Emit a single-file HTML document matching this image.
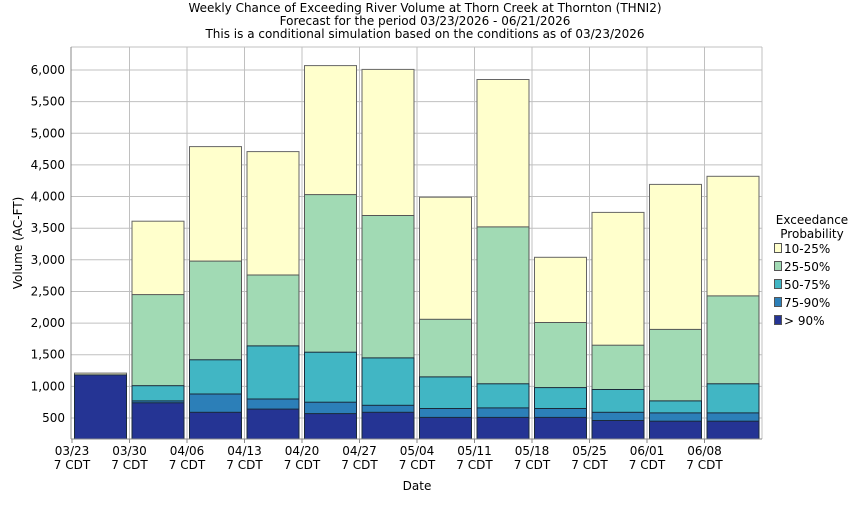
<!DOCTYPE html>
<html><head><meta charset="utf-8"><style>
body{margin:0;background:#fff;}
svg{font-family:"DejaVu Sans","Liberation Sans",sans-serif;}
</style></head><body>
<svg width="850" height="500" xmlns="http://www.w3.org/2000/svg">
<rect width="850" height="500" fill="#fff"/>
<text x="425" y="12" font-size="12" text-anchor="middle">Weekly Chance of Exceeding River Volume at Thorn Creek at Thornton (THNI2)</text>
<text x="425" y="25" font-size="12" text-anchor="middle">Forecast for the period 03/23/2026 - 06/21/2026</text>
<text x="425" y="38" font-size="12" text-anchor="middle">This is a conditional simulation based on the conditions as of 03/23/2026</text>
<g stroke="#c0c0c0">
<line x1="71" x2="762" y1="47" y2="47"/>
<line x1="71" x2="762" y1="70" y2="70"/><line x1="71" x2="762" y1="101.6" y2="101.6"/><line x1="71" x2="762" y1="133.3" y2="133.3"/><line x1="71" x2="762" y1="164.9" y2="164.9"/><line x1="71" x2="762" y1="196.5" y2="196.5"/><line x1="71" x2="762" y1="228.2" y2="228.2"/><line x1="71" x2="762" y1="259.8" y2="259.8"/><line x1="71" x2="762" y1="291.5" y2="291.5"/><line x1="71" x2="762" y1="323.1" y2="323.1"/><line x1="71" x2="762" y1="354.7" y2="354.7"/><line x1="71" x2="762" y1="386.4" y2="386.4"/><line x1="71" x2="762" y1="418" y2="418"/>
<line x1="129.5" x2="129.5" y1="47" y2="439"/><line x1="187" x2="187" y1="47" y2="439"/><line x1="244.5" x2="244.5" y1="47" y2="439"/><line x1="302" x2="302" y1="47" y2="439"/><line x1="359.5" x2="359.5" y1="47" y2="439"/><line x1="417" x2="417" y1="47" y2="439"/><line x1="474.5" x2="474.5" y1="47" y2="439"/><line x1="532" x2="532" y1="47" y2="439"/><line x1="589.5" x2="589.5" y1="47" y2="439"/><line x1="647" x2="647" y1="47" y2="439"/><line x1="704.5" x2="704.5" y1="47" y2="439"/><line x1="762" x2="762" y1="47" y2="439"/>
</g>
<g font-size="12" text-anchor="end">
<text x="65" y="74">6,000</text><text x="65" y="105.6">5,500</text><text x="65" y="137.3">5,000</text><text x="65" y="168.9">4,500</text><text x="65" y="200.5">4,000</text><text x="65" y="232.2">3,500</text><text x="65" y="263.8">3,000</text><text x="65" y="295.5">2,500</text><text x="65" y="327.1">2,000</text><text x="65" y="358.7">1,500</text><text x="65" y="390.4">1,000</text><text x="65" y="422">500</text>
</g>
<g stroke-width="1">
<!-- bar template: rects drawn top-to-bottom-to-axis, later covers earlier -->
<g transform="translate(74.5,0)">
<rect y="373.1" width="52" height="65.9" fill="#FFFFCC" stroke="#666"/><rect y="374.9" width="52" height="64.1" fill="#253494" stroke="#1a2a3a"/></g>
<g transform="translate(132,0)">
<rect y="221.2" width="52" height="217.8" fill="#FFFFCC" stroke="#666"/><rect y="294.6" width="52" height="144.4" fill="#A1DAB4" stroke="#555"/><rect y="385.7" width="52" height="53.3" fill="#41B6C4" stroke="#1a2a3a"/><rect y="400.9" width="52" height="38.1" fill="#2C7FB8" stroke="#1a2a3a"/><rect y="402.8" width="52" height="36.2" fill="#253494" stroke="#1a2a3a"/></g>
<g transform="translate(189.5,0)">
<rect y="146.6" width="52" height="292.4" fill="#FFFFCC" stroke="#666"/><rect y="261.1" width="52" height="177.9" fill="#A1DAB4" stroke="#555"/><rect y="359.8" width="52" height="79.2" fill="#41B6C4" stroke="#1a2a3a"/><rect y="394" width="52" height="45" fill="#2C7FB8" stroke="#1a2a3a"/><rect y="412.3" width="52" height="26.7" fill="#253494" stroke="#1a2a3a"/></g>
<g transform="translate(247,0)">
<rect y="151.6" width="52" height="287.4" fill="#FFFFCC" stroke="#666"/><rect y="275" width="52" height="164" fill="#A1DAB4" stroke="#555"/><rect y="345.9" width="52" height="93.1" fill="#41B6C4" stroke="#1a2a3a"/><rect y="399" width="52" height="40" fill="#2C7FB8" stroke="#1a2a3a"/><rect y="409.1" width="52" height="29.9" fill="#253494" stroke="#1a2a3a"/></g>
<g transform="translate(304.5,0)">
<rect y="65.6" width="52" height="373.4" fill="#FFFFCC" stroke="#666"/><rect y="194.6" width="52" height="244.4" fill="#A1DAB4" stroke="#555"/><rect y="352.2" width="52" height="86.8" fill="#41B6C4" stroke="#1a2a3a"/><rect y="402.2" width="52" height="36.8" fill="#2C7FB8" stroke="#1a2a3a"/><rect y="413.6" width="52" height="25.4" fill="#253494" stroke="#1a2a3a"/></g>
<g transform="translate(362,0)">
<rect y="69.4" width="52" height="369.6" fill="#FFFFCC" stroke="#666"/><rect y="215.5" width="52" height="223.5" fill="#A1DAB4" stroke="#555"/><rect y="357.9" width="52" height="81.1" fill="#41B6C4" stroke="#1a2a3a"/><rect y="405.3" width="52" height="33.7" fill="#2C7FB8" stroke="#1a2a3a"/><rect y="412.3" width="52" height="26.7" fill="#253494" stroke="#1a2a3a"/></g>
<g transform="translate(419.5,0)">
<rect y="197.2" width="52" height="241.8" fill="#FFFFCC" stroke="#666"/><rect y="319.3" width="52" height="119.7" fill="#A1DAB4" stroke="#555"/><rect y="376.9" width="52" height="62.1" fill="#41B6C4" stroke="#1a2a3a"/><rect y="408.5" width="52" height="30.5" fill="#2C7FB8" stroke="#1a2a3a"/><rect y="417.4" width="52" height="21.6" fill="#253494" stroke="#1a2a3a"/></g>
<g transform="translate(477,0)">
<rect y="79.5" width="52" height="359.5" fill="#FFFFCC" stroke="#666"/><rect y="226.9" width="52" height="212.1" fill="#A1DAB4" stroke="#555"/><rect y="383.8" width="52" height="55.2" fill="#41B6C4" stroke="#1a2a3a"/><rect y="407.9" width="52" height="31.1" fill="#2C7FB8" stroke="#1a2a3a"/><rect y="417.4" width="52" height="21.6" fill="#253494" stroke="#1a2a3a"/></g>
<g transform="translate(534.5,0)">
<rect y="257.3" width="52" height="181.7" fill="#FFFFCC" stroke="#666"/><rect y="322.5" width="52" height="116.5" fill="#A1DAB4" stroke="#555"/><rect y="387.6" width="52" height="51.4" fill="#41B6C4" stroke="#1a2a3a"/><rect y="408.5" width="52" height="30.5" fill="#2C7FB8" stroke="#1a2a3a"/><rect y="417.4" width="52" height="21.6" fill="#253494" stroke="#1a2a3a"/></g>
<g transform="translate(592,0)">
<rect y="212.4" width="52" height="226.6" fill="#FFFFCC" stroke="#666"/><rect y="345.2" width="52" height="93.8" fill="#A1DAB4" stroke="#555"/><rect y="389.5" width="52" height="49.5" fill="#41B6C4" stroke="#1a2a3a"/><rect y="412.3" width="52" height="26.7" fill="#2C7FB8" stroke="#1a2a3a"/><rect y="420.5" width="52" height="18.5" fill="#253494" stroke="#1a2a3a"/></g>
<g transform="translate(649.5,0)">
<rect y="184.4" width="52" height="254.6" fill="#FFFFCC" stroke="#666"/><rect y="329.4" width="52" height="109.6" fill="#A1DAB4" stroke="#555"/><rect y="400.9" width="52" height="38.1" fill="#41B6C4" stroke="#1a2a3a"/><rect y="412.9" width="52" height="26.1" fill="#2C7FB8" stroke="#1a2a3a"/><rect y="421.2" width="52" height="17.8" fill="#253494" stroke="#1a2a3a"/></g>
<g transform="translate(707,0)">
<rect y="176.3" width="52" height="262.7" fill="#FFFFCC" stroke="#666"/><rect y="295.9" width="52" height="143.1" fill="#A1DAB4" stroke="#555"/><rect y="383.8" width="52" height="55.2" fill="#41B6C4" stroke="#1a2a3a"/><rect y="412.9" width="52" height="26.1" fill="#2C7FB8" stroke="#1a2a3a"/><rect y="421.2" width="52" height="17.8" fill="#253494" stroke="#1a2a3a"/></g>
</g>
<g stroke="#888">
<line x1="71" x2="71" y1="47" y2="439"/><line x1="71" x2="762" y1="439" y2="439"/>
<line x1="72" x2="72" y1="439" y2="443"/><line x1="129.5" x2="129.5" y1="439" y2="443"/><line x1="187" x2="187" y1="439" y2="443"/><line x1="244.5" x2="244.5" y1="439" y2="443"/><line x1="302" x2="302" y1="439" y2="443"/><line x1="359.5" x2="359.5" y1="439" y2="443"/><line x1="417" x2="417" y1="439" y2="443"/><line x1="474.5" x2="474.5" y1="439" y2="443"/><line x1="532" x2="532" y1="439" y2="443"/><line x1="589.5" x2="589.5" y1="439" y2="443"/><line x1="647" x2="647" y1="439" y2="443"/><line x1="704.5" x2="704.5" y1="439" y2="443"/>
</g>
<g font-size="12" text-anchor="middle">
<text x="72" y="455">03/23</text><text x="72" y="469">7 CDT</text>
<text x="129.5" y="455">03/30</text><text x="129.5" y="469">7 CDT</text>
<text x="187" y="455">04/06</text><text x="187" y="469">7 CDT</text>
<text x="244.5" y="455">04/13</text><text x="244.5" y="469">7 CDT</text>
<text x="302" y="455">04/20</text><text x="302" y="469">7 CDT</text>
<text x="359.5" y="455">04/27</text><text x="359.5" y="469">7 CDT</text>
<text x="417" y="455">05/04</text><text x="417" y="469">7 CDT</text>
<text x="474.5" y="455">05/11</text><text x="474.5" y="469">7 CDT</text>
<text x="532" y="455">05/18</text><text x="532" y="469">7 CDT</text>
<text x="589.5" y="455">05/25</text><text x="589.5" y="469">7 CDT</text>
<text x="647" y="455">06/01</text><text x="647" y="469">7 CDT</text>
<text x="704.5" y="455">06/08</text><text x="704.5" y="469">7 CDT</text>
</g>
<text x="417" y="490" font-size="12" text-anchor="middle">Date</text>
<text transform="translate(22,243) rotate(-90)" font-size="12" text-anchor="middle">Volume (AC-FT)</text>
<text x="812" y="224" font-size="12" text-anchor="middle">Exceedance</text>
<text x="812" y="238" font-size="12" text-anchor="middle">Probability</text>
<g font-size="12">
<rect x="774.5" y="243.5" width="7" height="9" fill="#FFFFCC" stroke="#555"/><text x="784" y="253">10-25%</text>
<rect x="774.5" y="261.5" width="7" height="9" fill="#A1DAB4" stroke="#555"/><text x="784" y="271">25-50%</text>
<rect x="774.5" y="279.5" width="7" height="9" fill="#41B6C4" stroke="#555"/><text x="784" y="289">50-75%</text>
<rect x="774.5" y="297.5" width="7" height="9" fill="#2C7FB8" stroke="#555"/><text x="784" y="307">75-90%</text>
<rect x="774.5" y="315.5" width="7" height="9" fill="#253494" stroke="#555"/><text x="784" y="325">&gt; 90%</text>
</g>
</svg>
</body></html>
